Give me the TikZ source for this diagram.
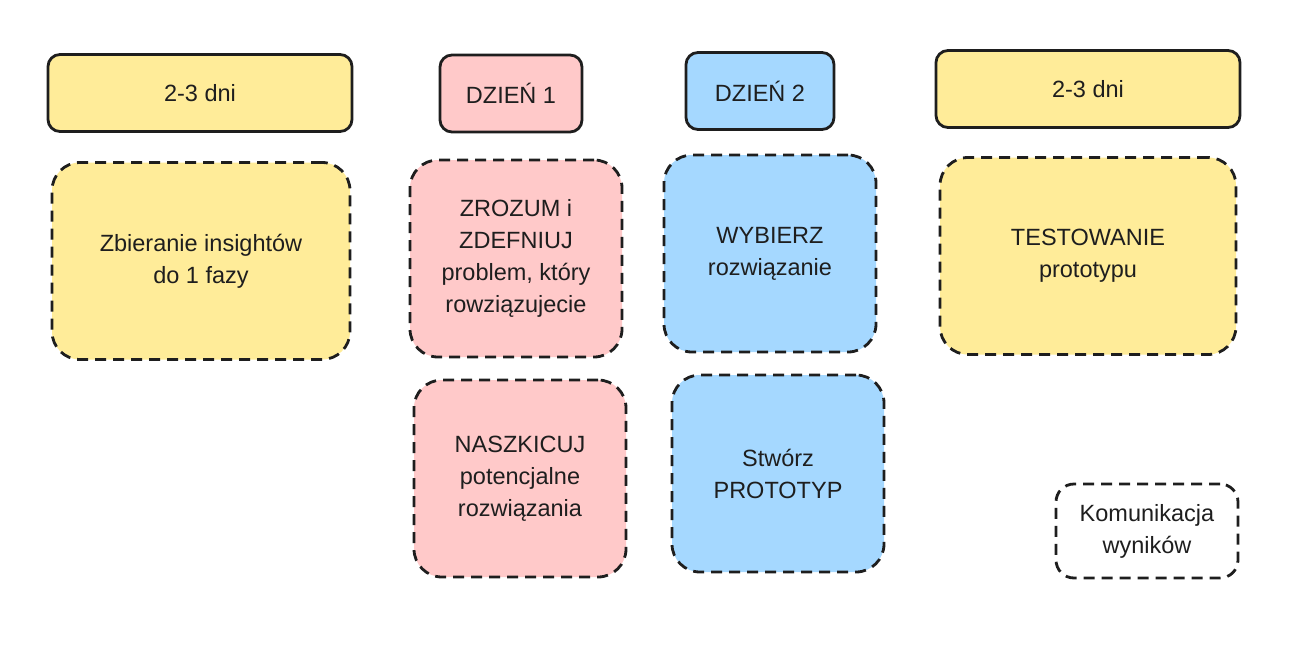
\documentclass[tikz,border=0pt]{standalone}
\usepackage{fontspec}
\setmainfont{Liberation Sans}
\definecolor{cyel}{HTML}{FFEC99}
\definecolor{cpink}{HTML}{FFC9C9}
\definecolor{cblue}{HTML}{A5D8FF}
\definecolor{cink}{HTML}{1E1E1E}
\begin{document}
\begin{tikzpicture}[x=1pt,y=-1pt,
  every node/.style={font=\fontsize{23.5}{32}\selectfont, text=cink, align=center, inner sep=0pt},
  head/.style={draw=cink, line width=2.8pt, rounded corners=12pt, minimum height=77pt},
  card/.style={draw=cink, line width=2.8pt, dash pattern=on 11pt off 7pt, rounded corners=28pt, minimum height=197pt, minimum width=212pt},
]
\useasboundingbox (0,0) rectangle (1292,650);
% header boxes
\node[head, fill=cyel, minimum width=304pt] (h1) at (200,93) {2-3 dni};
\node[head, fill=cpink, minimum width=142pt] (h2) at (511,93.5) {DZIEŃ 1};
\node[head, fill=cblue, minimum width=148pt] (h3) at (760,91) {DZIEŃ 2};
\node[head, fill=cyel, minimum width=304pt] (h4) at (1088,89) {2-3 dni};
% cards
\node[card, fill=cyel, minimum width=298pt] (c1) at (201,261) {Zbieranie insightów\\do 1 fazy};
\node[card, fill=cpink] (c2) at (516,258.5) {ZROZUM i\\ZDEFNIUJ\\problem, który\\rowziązujecie};
\node[card, fill=cblue] (c3) at (770,253.5) {WYBIERZ\\rozwiązanie};
\node[card, fill=cyel, minimum width=296pt] (c4) at (1088,256) {TESTOWANIE\\prototypu};
\node[card, fill=cpink] (c5) at (520,478.5) {NASZKICUJ\\potencjalne\\rozwiązania};
\node[card, fill=cblue] (c6) at (778,473.5) {Stwórz\\PROTOTYP};
\node[card, rounded corners=18pt, minimum width=182pt, minimum height=94pt] (c7) at (1147,531) {Komunikacja\\wyników};
\end{tikzpicture}
\end{document}
